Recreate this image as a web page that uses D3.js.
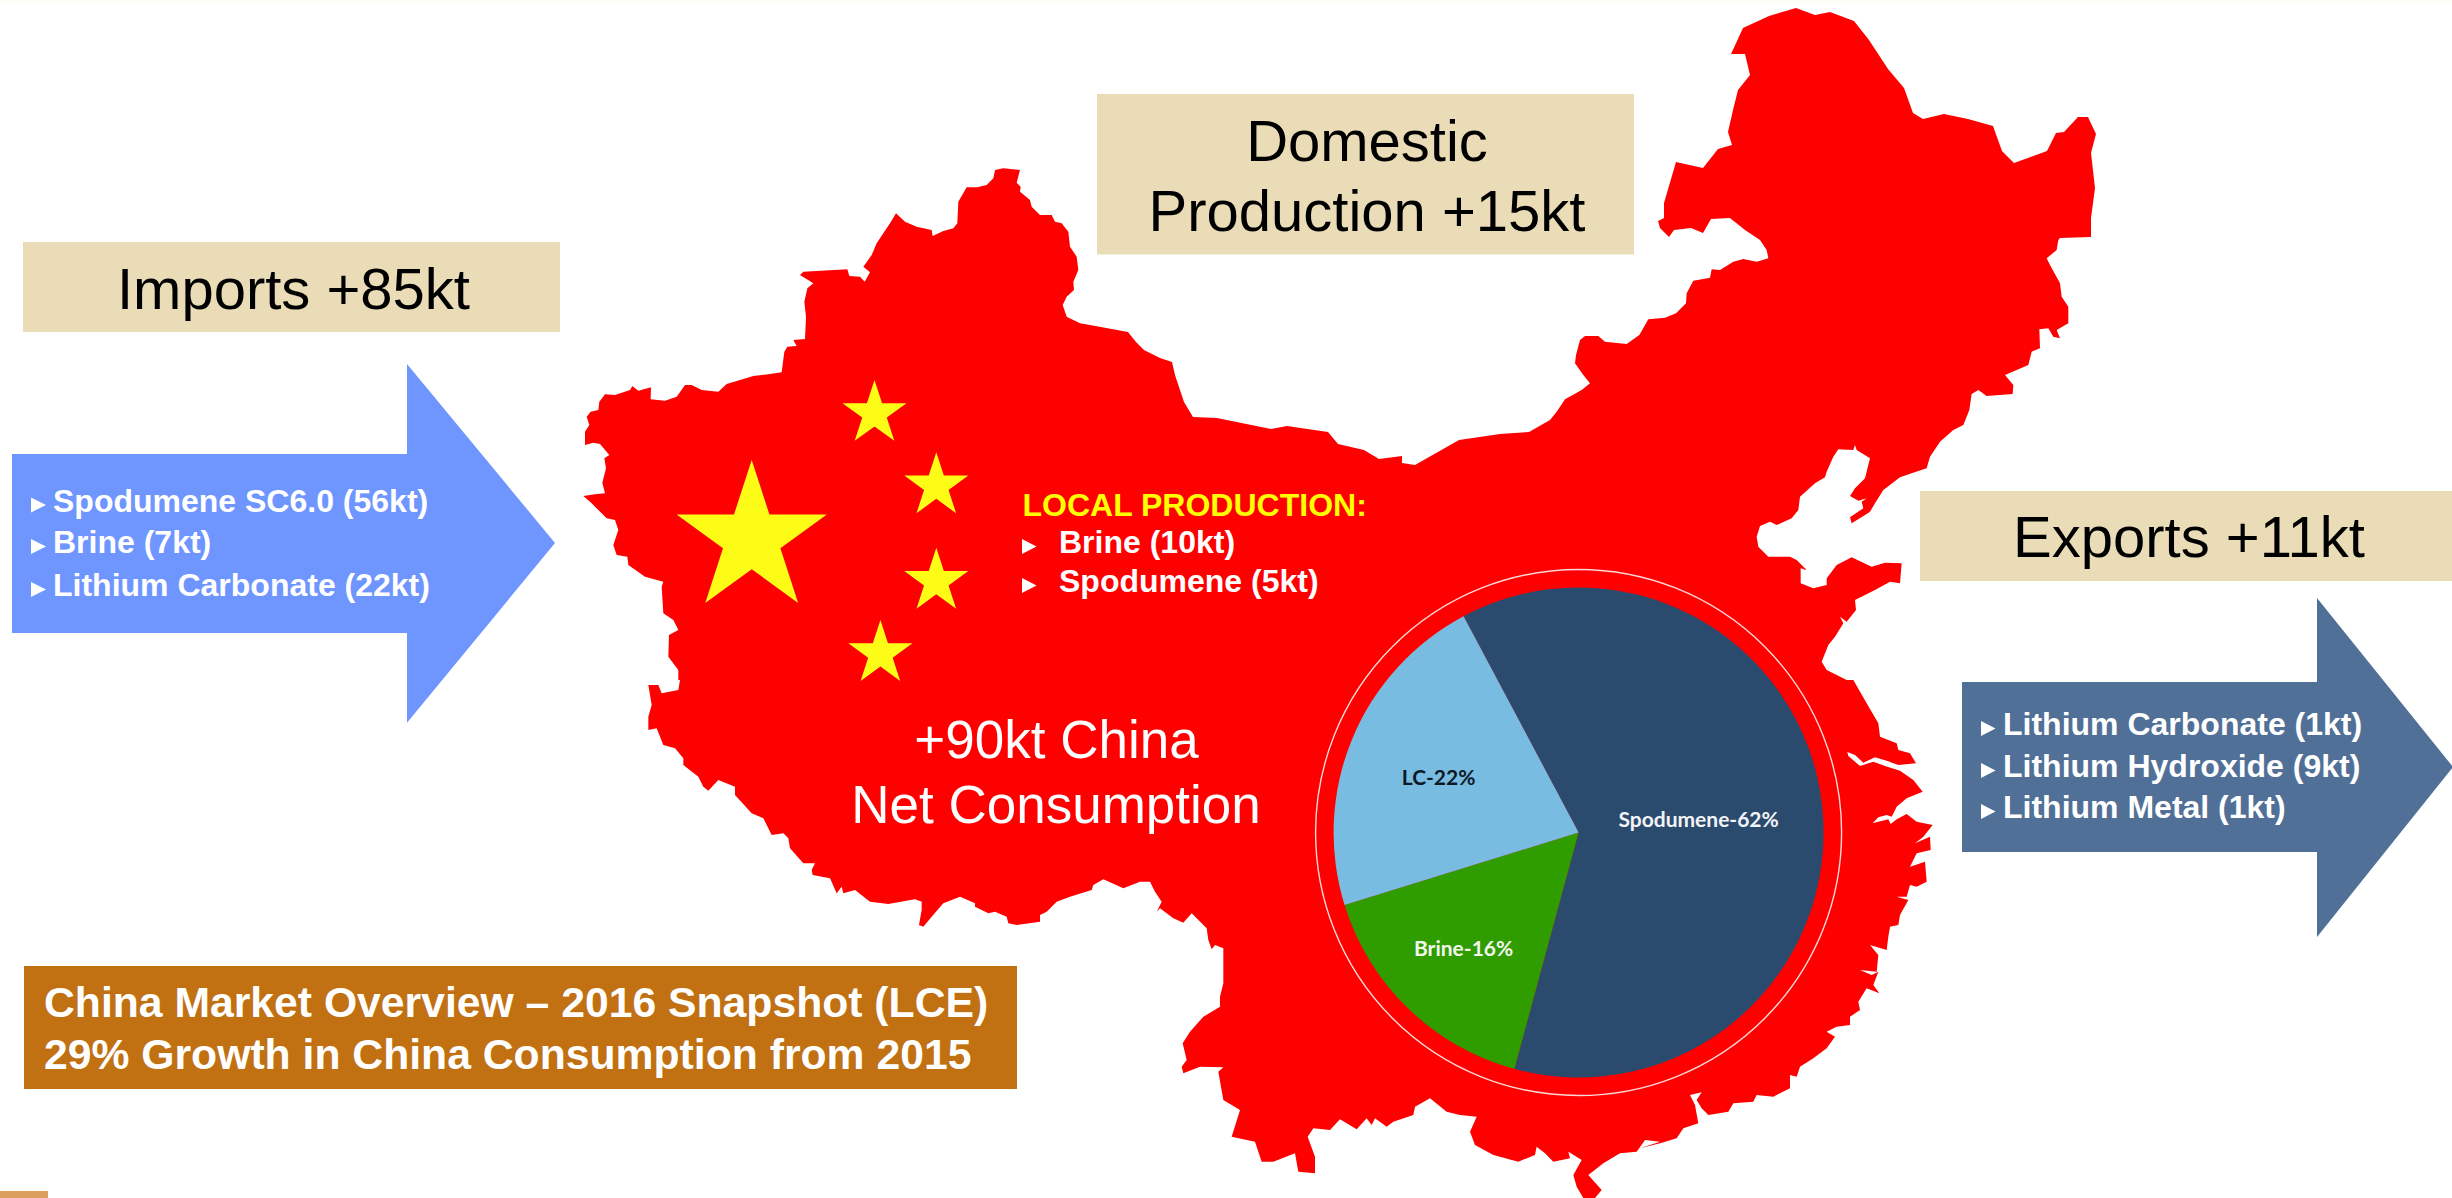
<!DOCTYPE html>
<html>
<head>
<meta charset="utf-8">
<script src="https://d3js.org/d3.v7.min.js"></script>
<style>
body { margin: 0; background: #fff; }
text { font-family: "Liberation Sans", Arial, sans-serif; }
</style>
</head>
<body>
<svg width="2452" height="1198"></svg>
<script>
// pie values
var feedNames = ["Spodumene", "Brine", "LC"];
var feedShares = [62, 16, 22];

var importItems = ["Spodumene SC6.0 (56kt)", "Brine (7kt)", "Lithium Carbonate (22kt)"];
var exportItems = ["Lithium Carbonate (1kt)", "Lithium Hydroxide (9kt)", "Lithium Metal (1kt)"];
var localItems = ["Brine (10kt)", "Spodumene (5kt)"];

var borderWest = [[40,1008],[75,1003],[105,1000],[97,968],[108,925],[103,895],[118,885],[90,852],[70,848],[45,855],[45,815],[58,795],[50,770],[62,755],[85,750],[88,725],[105,703],[135,705],[180,690],[187,678],[205,692],[243,682],[242,718],[285,722],[320,710],[345,675],[365,675],[395,690],[445,695],[470,672],[550,648],[600,642],[635,637],[643,575],[652,560],[680,558],[670,540],[705,537],[708,470],[703,425],[712,385],[730,370],[690,345],[700,335],[832,328],[838,348],[870,350],[884,365],[900,337],[880,320],[905,285],[920,250],[960,190],[978,160],[1005,185],[1040,200],[1085,210],[1088,228],[1120,213],[1150,205],[1162,190],[1165,125],[1190,82],[1222,82],[1250,75],[1270,55],[1275,30],[1300,25],[1350,30],[1340,68],[1352,80],[1350,95],[1380,120],[1385,140],[1410,165],[1445,165],[1455,185],[1475,190],[1495,215],[1500,260],[1520,290],[1525,330],[1510,365],[1512,390],[1490,410],[1478,435],[1490,470],[1530,490],[1560,495]];
var borderWestLower = [[325,1560],[325,1530],[295,1490],[297,1425],[325,1410],[310,1380],[280,1360],[275,1280],[280,1265],[225,1250],[175,1215],[172,1190],[140,1185],[130,1155],[145,1110],[135,1080],[110,1075],[75,1040],[65,1030]];
// these two were read in picture units
var borderMongolia = [[1128,332],[1136,342],[1144,350],[1160,358],[1172,362],[1175,375],[1184,402],[1193,417],[1217,418],[1271,429],[1287,426],[1328,432],[1338,444],[1364,450],[1379,459],[1402,456],[1402,463],[1415,465],[1459,440],[1500,434],[1529,432]];
var borderNorthEast = [[1745,230],[1730,218],[1711,219],[1703,233],[1691,228],[1674,230],[1669,237],[1660,228],[1658,221],[1664,218],[1664,203],[1676,162],[1703,168],[1718,149],[1732,145],[1728,132],[1733,110],[1738,90],[1750,75],[1745,54],[1731,54],[1743,28],[1769,16],[1796,8],[1815,15],[1830,12],[1854,21],[1869,40],[1888,69],[1904,88],[1913,113],[1923,119],[1944,114],[1968,119],[1993,126],[2002,151],[2014,163],[2047,151],[2056,133],[2064,132],[2078,117],[2088,117],[2096,134],[2091,153],[2095,188],[2091,218],[2091,237],[2060,238]];
var borderInnerCoast = [[0,540],[20,515],[45,478],[95,450],[120,430],[100,405],[75,370],[78,345],[90,300],[105,288],[145,288],[165,305],[230,312],[268,285],[295,238],[345,233],[378,220],[408,190],[410,160],[430,122],[480,113],[485,88],[510,90],[550,65],[580,57],[620,65],[655,55],[650,30],[630,0]];
var borderBohai = [[1525,0],[1520,30],[1490,55],[1500,75],[1530,130],[1535,170],[1555,200],[1555,250],[1520,270],[1530,295],[1510,290],[1495,265],[1468,268],[1470,325],[1445,335],[1435,375],[1395,392],[1365,405],[1390,435],[1388,462],[1310,468],[1285,450],[1265,462],[1258,510],[1240,555],[1210,570],[1170,605],[1140,650],[1130,685],[1085,700],[1050,712],[1000,750],[975,790],[960,815],[945,825],[905,850],[900,832],[940,805],[935,785],[950,775],[925,782],[900,768],[915,745],[945,715],[960,655],[920,630],[915,615],[910,630],[865,628],[850,650],[830,695],[825,712],[795,730],[750,770],[745,810],[725,835],[680,855],[660,845],[630,858],[620,890],[625,920],[655,950],[720,950],[740,960],[770,990],[752,985],[752,1030],[790,1045],[830,1035],[830,1015],[860,975],[905,952],[965,980],[1005,968],[1055,970],[1050,1030],[1020,1025],[975,1050],[915,1080],[918,1110],[890,1145],[870,1130],[880,1150],[855,1190],[835,1215],[815,1265],[830,1290],[890,1320]];
var borderEastCoast = [[640,0],[680,70],[715,130],[720,170],[770,190],[775,210],[810,220],[828,250],[775,255],[740,242],[705,232],[670,248],[645,225],[622,216],[625,228],[660,258],[700,245],[735,258],[780,272],[820,300],[848,335],[800,355],[770,380],[755,410],[740,405],[715,412],[698,430],[715,425],[745,418],[752,432],[770,418],[800,402],[830,425],[878,435],[850,470],[825,490],[870,470],[872,510],[830,520],[810,560],[855,545],[860,605],[830,620],[810,615],[800,650],[770,650],[805,660],[780,705],[775,735],[750,740],[745,770],[740,810],[690,795],[715,825],[710,875],[660,870],[695,885],[715,875],[700,915],[718,940],[680,925],[655,965],[660,990],[630,1010],[630,1035],[590,1040],[560,1055],[585,1070],[560,1105],[520,1135],[480,1160],[470,1190],[450,1185],[450,1225],[400,1250],[350,1245],[340,1265],[280,1270],[265,1295],[205,1305],[185,1285],[170,1260],[185,1237],[150,1245],[165,1275],[175,1330],[130,1345],[110,1375],[60,1390],[0,1405]];
var borderSouth = [[1560,845],[1515,840],[1490,875],[1440,880],[1390,910],[1345,945],[1385,990],[1365,1014],[1330,1014],[1310,980],[1300,945],[1325,900],[1285,875],[1290,895],[1240,905],[1215,880],[1190,860],[1185,885],[1135,905],[1060,885],[1005,855],[990,815],[1010,770],[960,765],[920,755],[870,715],[825,740],[820,765],[760,785],[740,800],[705,775],[695,795],[680,775],[650,808],[600,778],[570,810],[520,805],[503,830],[525,890],[525,940],[475,935],[465,880],[400,905],[365,905],[345,845],[275,830],[300,750],[250,720],[235,635],[250,622],[180,620],[130,640],[125,620],[140,600],[128,550],[150,515],[190,470],[240,440],[240,410],[250,370],[250,265],[225,255],[215,268],[205,240],[200,205],[155,160],[130,188],[100,175],[60,145],[50,155],[65,125],[45,95],[30,65],[0,65]];
var borderTibet = [[1510,625],[1450,598],[1420,615],[1415,630],[1350,650],[1310,665],[1280,695],[1260,705],[1260,725],[1190,735],[1165,730],[1160,710],[1125,695],[1105,700],[1065,680],[1065,670],[1020,650],[970,670],[935,710],[910,740],[897,735],[905,690],[905,665],[885,658],[805,672],[750,665],[705,630],[670,640],[665,620],[650,640],[630,595],[578,585],[575,570],[585,550],[550,550],[510,505],[505,475],[490,460],[455,465],[430,415],[395,400],[345,345],[345,320],[295,300],[265,332],[250,320],[235,290],[190,255],[190,235],[165,205],[130,195],[110,145],[85,150],[85,110],[95,75],[85,15],[115,15],[125,40],[175,30],[180,0]];

var svg = d3.select("svg"),
width = +svg.attr("width"),
height = +svg.attr("height");

var x = d3.scaleLinear().domain([0, 2452]).range([0, width]);
var y = d3.scaleLinear().domain([0, 1198]).range([0, height]);

var line = d3.line()
.x(function(d) { return x(d[0]); })
.y(function(d) { return y(d[1]); });

// crop pixels back to picture units
function fromCrop(points, left, top) {
  return points.map(function(p) { return [left + p[0] / 3, top + p[1] / 3]; });
}

var borderPoints = d3.merge([
fromCrop(borderWest, 570, 160),
borderMongolia,
fromCrop(borderInnerCoast, 1550, 240),
borderNorthEast,
fromCrop(borderBohai, 1550, 240),
fromCrop(borderEastCoast, 1640, 680),
fromCrop(borderSouth, 1140, 860),
fromCrop(borderTibet, 620, 680),
fromCrop(borderWestLower, 570, 160)
]);

// strip at the top and the corner tab of the slide
svg.append("rect").attr("width", width).attr("height", 3).attr("fill", "#fffef6");
svg.append("rect").attr("x", 0).attr("y", 1191).attr("width", 48).attr("height", 7).attr("fill", "#dca05c");

// map
svg.append("path")
.datum(borderPoints)
.attr("d", function(d) { return line(d) + "Z"; })
.attr("fill", "#ff0000");

// flag stars
var stars = [
{cx: 751.7, cy: 539, r: 79},
{cx: 874.5, cy: 413.6, r: 33.7},
{cx: 936.3, cy: 486, r: 33.7},
{cx: 936.3, cy: 581.4, r: 33.7},
{cx: 880.4, cy: 653.7, r: 33.7}
];
var ka = 0.8908130915292852;
svg.selectAll(".star")
.data(stars)
.enter().append("path")
.attr("class", "star")
.attr("transform", function(d) { return "translate(" + x(d.cx) + "," + y(d.cy) + ")"; })
.attr("d", function(d) { return d3.symbol().type(d3.symbolStar).size(d.r * d.r / ka)(); })
.attr("fill", "#fcfc17");

// arrows
function arrow(x0, x1, x2, top, shaftTop, mid, shaftBottom, bottom, fill) {
  svg.append("path")
  .datum([[x0, shaftTop], [x1, shaftTop], [x1, top], [x2, mid], [x1, bottom], [x1, shaftBottom], [x0, shaftBottom]])
  .attr("d", function(d) { return line(d) + "Z"; })
  .attr("fill", fill);
}
arrow(12, 407, 555, 364, 454, 543, 633, 722.7, "#6f95ff");
arrow(1962, 2317, 2453, 598, 682, 767, 852, 937, "#507097");

// tan header boxes
function box(x0, y0, x1, y1, fill) {
  svg.append("rect")
  .attr("x", x(x0)).attr("y", y(y0))
  .attr("width", x(x1) - x(x0)).attr("height", y(y1) - y(y0))
  .attr("fill", fill);
}
box(23, 242, 560, 332, "#eadcb7");
box(1097, 94, 1634, 254.5, "#eadcb7");
box(1920, 491, 2452, 581, "#eadcb7");
box(24, 966, 1017, 1089, "#c17012");

function label(str, px, py, size, fill, weight, anchor) {
  return svg.append("text")
  .attr("x", x(px)).attr("y", y(py))
  .attr("font-size", size)
  .attr("font-weight", weight || "normal")
  .attr("text-anchor", anchor || "start")
  .attr("fill", fill)
  .text(str);
}

label("Imports +85kt", 293.5, 309, 58, "#000", "normal", "middle");
label("Domestic", 1367, 161, 58, "#000", "normal", "middle");
label("Production +15kt", 1367, 231, 58, "#000", "normal", "middle");
label("Exports +11kt", 2189, 557, 58, "#000", "normal", "middle");
label("+90kt China", 1056.5, 757.5, 53, "#fff", "normal", "middle");
label("Net Consumption", 1056, 822.5, 53, "#fff", "normal", "middle");
label("China Market Overview \u2013 2016 Snapshot (LCE)", 44, 1017, 42.7, "#fff", "bold");
label("29% Growth in China Consumption from 2015", 44, 1068.5, 42.7, "#fff", "bold");
label("LOCAL PRODUCTION:", 1022.5, 516, 32, "#ffff00", "bold");

// small bullet triangle
function bullet(px, py, w, h) {
  svg.append("path")
  .datum([[px, py - h], [px + w, py - h / 2], [px, py]])
  .attr("d", function(d) { return line(d) + "Z"; })
  .attr("fill", "#fff");
}
function list(items, bulletX, textX, baselines, w, h) {
  items.forEach(function(item, i) {
    bullet(bulletX, baselines[i] + 1, w, h);
    label(item, textX, baselines[i], 32, "#fff", "bold");
  });
}
list(importItems, 31, 53, [511.5, 553, 596], 15, 15);
list(exportItems, 1981, 2003, [735, 777, 818], 14.5, 15);
list(localItems, 1022, 1059, [553, 592], 14.5, 15);

// consumption pie
var pieX = 1578.6, pieY = 832.5, pieR = 245, ringR = 263;
var pieColors = {Spodumene: "#2a4a6e", Brine: "#2f9c00", LC: "#78bce2"};
var labelColors = {Spodumene: "#f2f4f7", Brine: "#f2f7ee", LC: "#0c1a26"};
var labelOffsets = {Spodumene: [120, -6], Brine: [-115, 123], LC: [-140, -47.5]};

var feeds = feedNames.map(function(name, i) { return {name: name, share: feedShares[i]}; });

var pie = d3.pie()
.sort(null)
.value(function(d) { return d.share; })
.startAngle(-28 * Math.PI / 180)
.endAngle(332 * Math.PI / 180);

var arc = d3.arc().innerRadius(0).outerRadius(pieR);

var g = svg.append("g").attr("transform", "translate(" + x(pieX) + "," + y(pieY) + ")");

g.append("circle")
.attr("r", ringR)
.attr("fill", "none")
.attr("stroke", "#ffd9d9")
.attr("stroke-width", 1.4);

g.selectAll(".slice")
.data(pie(feeds))
.enter().append("path")
.attr("class", "slice")
.attr("d", arc)
.attr("fill", function(d) { return pieColors[d.data.name]; });

g.selectAll(".slice-label")
.data(feeds)
.enter().append("text")
.attr("class", "slice-label")
.attr("x", function(d) { return labelOffsets[d.name][0]; })
.attr("y", function(d) { return labelOffsets[d.name][1]; })
.attr("text-anchor", "middle")
.attr("font-size", 21)
.attr("font-weight", 700)
.style("font-family", "Lato, sans-serif")
.attr("fill", function(d) { return labelColors[d.name]; })
.text(function(d) { return d.name + "-" + d.share + "%"; });
</script>
</body>
</html>
